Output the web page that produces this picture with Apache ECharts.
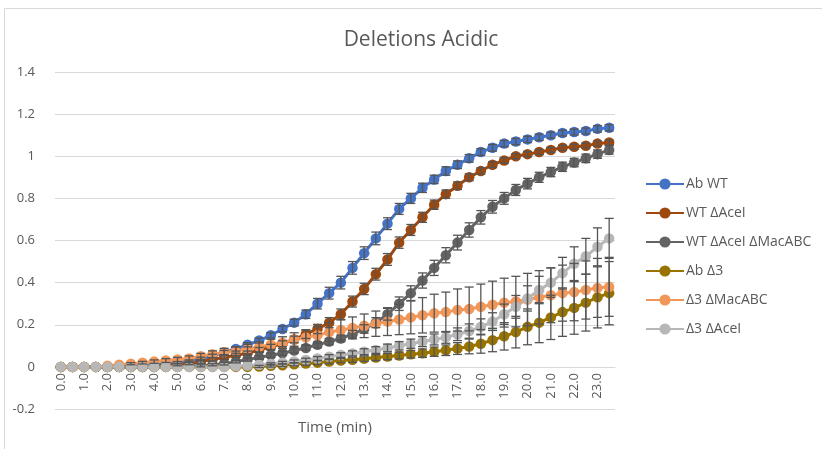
<!DOCTYPE html>
<html>
<head>
<meta charset="utf-8">
<script src="https://cdn.jsdelivr.net/npm/echarts@6/dist/echarts.min.js"></script>
<style>
  html, body { margin: 0; padding: 0; background: #fff; }
  #chart { width: 822px; height: 449px; }
</style>
</head>
<body>
<div id="chart"></div>
<script>
// Time points (min), one every 30 s
const times = ["0.0","0.5","1.0","1.5","2.0","2.5","3.0","3.5","4.0","4.5","5.0","5.5","6.0","6.5","7.0","7.5",
  "8.0","8.5","9.0","9.5","10.0","10.5","11.0","11.5","12.0","12.5","13.0","13.5","14.0","14.5","15.0","15.5",
  "16.0","16.5","17.0","17.5","18.0","18.5","19.0","19.5","20.0","20.5","21.0","21.5","22.0","22.5","23.0","23.5"];

const seriesNames = ["Ab WT", "WT ΔAceI", "WT ΔAceI ΔMacABC", "Ab Δ3", "Δ3 ΔMacABC", "Δ3 ΔAceI"];

// Mean values
const abWT = [0,0,0,0,0,0.002,0.004,0.006,0.01,0.015,0.02,0.028,0.038,0.052,0.068,0.085,
  0.105,0.125,0.15,0.18,0.21,0.25,0.30,0.35,0.40,0.47,0.54,0.61,0.68,0.75,0.80,0.85,
  0.89,0.93,0.96,0.99,1.02,1.04,1.06,1.07,1.08,1.09,1.10,1.11,1.115,1.12,1.13,1.135];
const wtAceI = [0,0,0,0,0,0,0,0,0.002,0.005,0.01,0.015,0.025,0.035,0.045,0.055,
  0.065,0.08,0.095,0.11,0.13,0.155,0.18,0.21,0.25,0.31,0.37,0.44,0.51,0.59,0.65,0.71,
  0.77,0.82,0.86,0.90,0.93,0.96,0.98,1.00,1.01,1.02,1.03,1.04,1.045,1.05,1.06,1.065];
const wtAceIMac = [0,0,0,0,0,0,0,0,0,0,0,0.003,0.005,0.01,0.015,0.025,
  0.035,0.045,0.055,0.065,0.078,0.09,0.105,0.12,0.135,0.155,0.18,0.21,0.25,0.30,0.35,0.41,
  0.47,0.53,0.59,0.65,0.71,0.76,0.80,0.84,0.87,0.90,0.925,0.95,0.97,0.99,1.01,1.03];
const abD3 = [0,0,0,0,0,0,0,0,0,0,0,0,0,0,0,0,
  0,0.002,0.005,0.008,0.012,0.016,0.02,0.025,0.03,0.034,0.039,0.044,0.049,0.054,0.06,0.065,
  0.072,0.079,0.087,0.097,0.11,0.127,0.145,0.165,0.19,0.21,0.235,0.26,0.28,0.305,0.33,0.35];
const d3Mac = [0,0,0,0,0.005,0.01,0.015,0.02,0.025,0.03,0.035,0.04,0.05,0.06,0.07,0.075,
  0.085,0.095,0.105,0.115,0.13,0.14,0.15,0.165,0.175,0.185,0.195,0.205,0.215,0.225,0.235,0.245,
  0.255,0.26,0.27,0.275,0.285,0.295,0.305,0.31,0.32,0.33,0.34,0.35,0.355,0.365,0.375,0.38];
const d3AceI = [0,0,0,0,0,0,0,0,0,0,0,0,0,0,0,0.003,
  0.006,0.01,0.014,0.02,0.026,0.033,0.04,0.048,0.056,0.064,0.072,0.08,0.09,0.10,0.11,0.12,
  0.13,0.14,0.155,0.17,0.19,0.215,0.25,0.285,0.325,0.365,0.40,0.445,0.49,0.525,0.57,0.61];

// Standard deviations (error bar half-lengths)
const abWTErr = [0,0,0,0,0,0,0,0,0,0,0.005,0.005,0.008,0.008,0.01,0.01,
  0.01,0.012,0.012,0.014,0.016,0.02,0.025,0.028,0.03,0.03,0.03,0.03,0.028,0.026,0.024,0.022,
  0.02,0.02,0.018,0.018,0.016,0.016,0.015,0.015,0.015,0.015,0.014,0.014,0.014,0.014,0.015,0.015];
const wtAceIErr = [0,0,0,0,0,0,0,0,0,0,0.005,0.005,0.008,0.008,0.01,0.01,
  0.01,0.012,0.012,0.014,0.016,0.02,0.022,0.024,0.025,0.026,0.027,0.028,0.028,0.027,0.026,0.024,
  0.022,0.02,0.018,0.016,0.015,0.014,0.013,0.012,0.012,0.012,0.012,0.012,0.012,0.012,0.012,0.012];
const wtAceIMacErr = [0,0,0,0,0,0,0,0,0,0,0,0,0.005,0.005,0.006,0.006,
  0.008,0.008,0.01,0.01,0.012,0.012,0.014,0.015,0.016,0.018,0.02,0.024,0.028,0.032,0.035,0.036,
  0.036,0.036,0.035,0.034,0.032,0.03,0.028,0.026,0.025,0.024,0.022,0.022,0.02,0.02,0.02,0.02];
const abD3Err = [0,0,0,0,0,0,0,0,0,0,0,0,0,0,0,0,
  0.004,0.005,0.006,0.006,0.007,0.008,0.009,0.01,0.01,0.012,0.013,0.014,0.015,0.016,0.018,0.02,
  0.022,0.025,0.028,0.035,0.045,0.055,0.065,0.075,0.085,0.095,0.105,0.115,0.125,0.135,0.145,0.15];
const d3MacErr = [0,0,0,0,0.003,0.004,0.005,0.006,0.008,0.009,0.01,0.012,0.014,0.016,0.018,0.02,
  0.022,0.024,0.026,0.028,0.032,0.036,0.04,0.044,0.048,0.052,0.056,0.06,0.066,0.072,0.078,0.084,
  0.09,0.095,0.1,0.104,0.108,0.112,0.116,0.12,0.124,0.127,0.13,0.133,0.136,0.138,0.14,0.14];
const d3AceIErr = [0,0,0,0,0,0,0,0,0,0,0,0,0,0,0,0,
  0.003,0.004,0.005,0.006,0.007,0.008,0.009,0.01,0.011,0.012,0.014,0.016,0.018,0.02,0.022,0.024,
  0.026,0.028,0.03,0.034,0.038,0.042,0.048,0.054,0.06,0.065,0.07,0.075,0.08,0.085,0.09,0.095];

const yTicks = { min: -0.2, max: 1.4, step: 0.2 };

const values = [abWT, wtAceI, wtAceIMac, abD3, d3Mac, d3AceI];
const errors = [abWTErr, wtAceIErr, wtAceIMacErr, abD3Err, d3MacErr, d3AceIErr];
const colors = ["#4472C4", "#9E480E", "#636363", "#997300", "#F1975A", "#B7B7B7"];

const textColor = "#595959";
const font = "'Open Sans', 'Liberation Sans', sans-serif";

const lineSeries = seriesNames.map((name, k) => ({
  name: name,
  type: "line",
  data: values[k],
  symbol: "circle",
  symbolSize: 10.5,
  showAllSymbol: true,
  lineStyle: { width: 3, color: colors[k] },
  itemStyle: { color: colors[k] },
  z: 3,
  animation: false
}));

// Error bars: vertical stroke with short caps at each point
const errorSeries = seriesNames.map((name, k) => ({
  type: "custom",
  name: name + " err",
  data: values[k].map((v, i) => [i, v - errors[k][i], v + errors[k][i]]),
  z: 4,
  silent: true,
  animation: false,
  renderItem: function (params, api) {
    const i = api.value(0);
    const lo = api.coord([i, api.value(1)]);
    const hi = api.coord([i, api.value(2)]);
    if (Math.abs(hi[1] - lo[1]) < 2) return null;
    const cap = 4.5;
    const st = { stroke: "#555555", lineWidth: 1.3 };
    return {
      type: "group",
      children: [
        { type: "line", shape: { x1: lo[0], y1: lo[1], x2: hi[0], y2: hi[1] }, style: st },
        { type: "line", shape: { x1: lo[0] - cap, y1: lo[1], x2: lo[0] + cap, y2: lo[1] }, style: st },
        { type: "line", shape: { x1: hi[0] - cap, y1: hi[1], x2: hi[0] + cap, y2: hi[1] }, style: st }
      ]
    };
  }
}));

const chart = echarts.init(document.getElementById("chart"), null, { renderer: "canvas" });
chart.setOption({
  backgroundColor: "#ffffff",
  animation: false,
  title: {
    text: "Deletions Acidic",
    left: 416,
    textAlign: "center",
    top: 25,
    textStyle: { fontFamily: font, fontSize: 21, fontWeight: "normal", color: textColor }
  },
  graphic: [{
    type: "rect",
    shape: { x: 4.5, y: 8.5, width: 840, height: 460 },
    style: { fill: null, stroke: "#d9d9d9", lineWidth: 1 },
    silent: true,
    z: -1
  }],
  legend: {
    orient: "vertical",
    left: 640,
    top: 172,
    itemWidth: 38,
    itemHeight: 14,
    itemGap: 15,
    data: seriesNames,
    textStyle: { fontFamily: font, fontSize: 14, color: textColor, padding: [0, 0, 0, -3] }
  },
  grid: { left: 55, right: 207, top: 72, bottom: 40, containLabel: false, outerBoundsMode: "none" },
  xAxis: {
    type: "category",
    data: times,
    boundaryGap: true,
    offset: -42,
    name: "Time (min)",
    nameLocation: "middle",
    nameGap: 53,
    nameTextStyle: { fontFamily: font, fontSize: 15, color: textColor },
    axisLine: { onZero: false, lineStyle: { color: "#d9d9d9" } },
    axisTick: { show: false },
    axisLabel: {
      interval: 1,
      rotate: 90,
      margin: 6,
      fontFamily: font,
      fontSize: 13,
      color: textColor
    },
    splitLine: { show: false }
  },
  yAxis: {
    type: "value",
    min: yTicks.min,
    max: yTicks.max,
    interval: yTicks.step,
    axisLine: { show: false },
    axisTick: { show: false },
    axisLabel: {
      margin: 20,
      fontFamily: font,
      fontSize: 13,
      color: textColor,
      formatter: v => String(Math.round(v * 10) / 10)
    },
    splitLine: { lineStyle: { color: "#d9d9d9", width: 1 } }
  },
  series: [...lineSeries, ...errorSeries]
});
</script>
</body>
</html>
